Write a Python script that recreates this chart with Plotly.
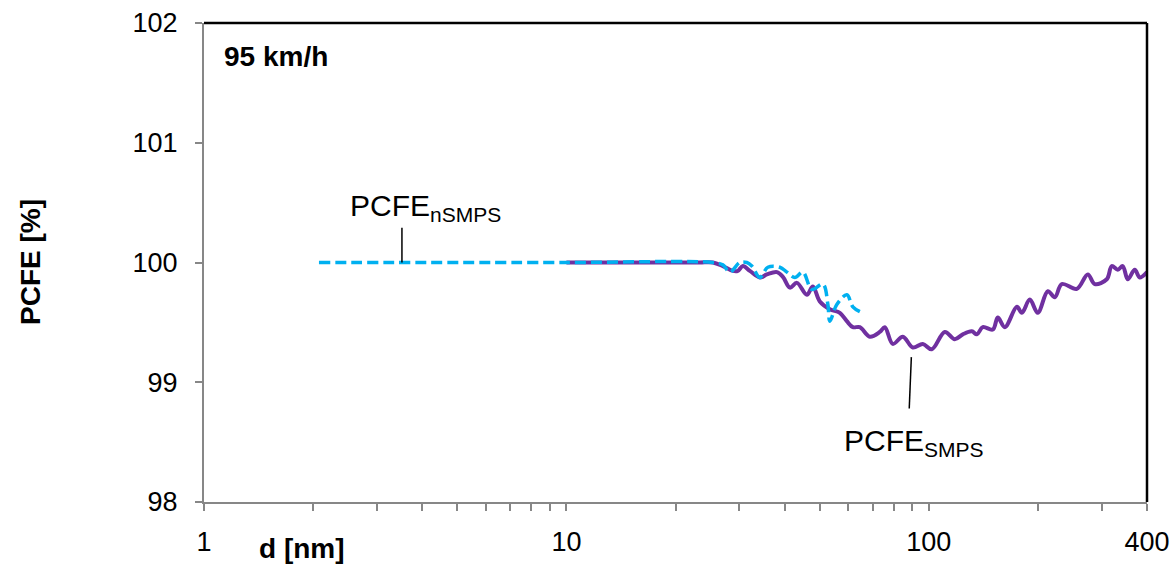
import plotly.graph_objects as go

# PCFE_SMPS (solid purple)
smps_d = [10, 20.56, 23.35, 25.36, 27.02, 28.8, 29.72, 30.68, 32.08, 34.19, 35.74, 38.09, 39.57,
          41.37, 43.25, 46.07, 47.86, 50.03, 53.33, 56.82, 59.4, 61.71, 64.52, 68.75, 73.26, 75.62,
          79.55, 84.78, 90.34, 96.25, 101.9, 110.7, 117.9, 124.1, 131.4, 135.7, 140.9, 150.2, 155.0,
          162.1, 175.0, 180.6, 190.0, 199.8, 213.0, 222.7, 232.8, 256.1, 274.6, 287.0, 309.8, 319.8,
          332.2, 342.9, 354.0, 370.1, 382.1, 400]
smps_v = [100, 100, 100, 100, 99.97, 99.93, 99.93, 99.97, 99.93, 99.875, 99.9, 99.92, 99.88,
          99.79, 99.83, 99.73, 99.8, 99.675, 99.61, 99.58, 99.51, 99.46, 99.46, 99.38, 99.42, 99.46,
          99.32, 99.38, 99.29, 99.32, 99.275, 99.42, 99.36, 99.4, 99.425, 99.4, 99.46, 99.44, 99.54,
          99.46, 99.63, 99.58, 99.69, 99.58, 99.76, 99.71, 99.82, 99.78, 99.9, 99.82, 99.86, 99.97,
          99.94, 99.97, 99.86, 99.94, 99.875, 99.92]

# PCFE_nSMPS (dashed cyan)
nsmps_d = [2.076, 10, 25.36, 27.02, 28.25, 30.1, 31.47, 32.49, 34.19, 35.96, 38.82, 40.59, 42.69,
           44.92, 47.57, 51.02, 52.66, 53.33, 55.74, 59.4, 61.71, 64.52]
nsmps_v = [100, 100, 100, 99.98, 99.92, 100, 100, 99.97, 99.875, 99.96, 99.96, 99.92, 99.875,
           99.92, 99.775, 99.82, 99.65, 99.51, 99.65, 99.73, 99.63, 99.59]

x_tickvals = [1, 2, 3, 4, 5, 6, 7, 8, 9, 10, 20, 30, 40, 50, 60, 70, 80, 90, 100, 200, 300, 400]
x_ticktext = ["1", "", "", "", "", "", "", "", "", "10", "", "", "", "", "", "", "", "", "100", "", "", "400"]
y_tickvals = [98, 99, 100, 101, 102]

FONT = "Liberation Sans, Arial, sans-serif"
GRAY = "#878787"

fig = go.Figure()
fig.add_trace(go.Scatter(x=smps_d, y=smps_v, mode="lines", line=dict(color="#7030A0", width=4, shape="spline", smoothing=1.0),
                         showlegend=False, hoverinfo="skip"))
fig.add_trace(go.Scatter(x=nsmps_d, y=nsmps_v, mode="lines",
                         line=dict(color="#00B0F0", width=3.5, dash="11px,5px", shape="spline", smoothing=1.0),
                         showlegend=False, hoverinfo="skip"))
# leader lines
fig.add_trace(go.Scatter(x=[3.517, 3.517], y=[100.0, 100.29], mode="lines", line=dict(color="black", width=1.5),
                         showlegend=False, hoverinfo="skip"))
fig.add_trace(go.Scatter(x=[89.5, 88.3], y=[99.21, 98.78], mode="lines", line=dict(color="black", width=1.5),
                         showlegend=False, hoverinfo="skip"))

fig.update_layout(
    width=1176, height=564,
    margin=dict(l=204, r=29, t=23, b=62, pad=0),
    paper_bgcolor="white", plot_bgcolor="white",
    font=dict(family=FONT, color="black", size=27),
    xaxis=dict(type="log", range=[0, 2.60206], tickvals=x_tickvals, ticktext=x_ticktext,
               ticks="outside", ticklen=7, tickwidth=1.5, tickcolor=GRAY, automargin=False,
               showline=True, linecolor=GRAY, linewidth=2, showgrid=False, zeroline=False,
               tickfont=dict(size=27, family=FONT), ticklabelstandoff=8),
    yaxis=dict(range=[98, 102], tickvals=y_tickvals, ticks="outside", ticklen=7, tickwidth=1.5, tickcolor=GRAY,
               showline=True, linecolor=GRAY, linewidth=2, showgrid=False, zeroline=False, automargin=False,
               tickfont=dict(size=27, family=FONT), ticklabelstandoff=12),
    shapes=[
        dict(type="line", xref="paper", yref="paper", x0=0, x1=1, y0=1, y1=1, line=dict(color="black", width=2.5)),
        dict(type="line", xref="paper", yref="paper", x0=1, x1=1, y0=0, y1=1, line=dict(color="black", width=2.5)),
    ],
    annotations=[
        dict(text="<b>95 km/h</b>", xref="paper", yref="paper", x=(222 - 204) / 943, y=(502 - 57) / 479,
             xanchor="left", yanchor="middle", showarrow=False, font=dict(size=28, family=FONT)),
        dict(text="<b>PCFE [%]</b>", xref="paper", yref="paper", x=(30 - 204) / 943, y=(502 - 262) / 479,
             xanchor="center", yanchor="middle", textangle=-90, showarrow=False, font=dict(size=28, family=FONT)),
        dict(text="<b>d [nm]</b>", xref="paper", yref="paper", x=(302 - 204) / 943, y=(502 - 548) / 479,
             xanchor="center", yanchor="middle", showarrow=False, font=dict(size=28, family=FONT)),
        dict(text="PCFE<sub>nSMPS</sub>", xref="paper", yref="paper", x=(348 - 204) / 943, y=(502 - 207) / 479,
             xanchor="left", yanchor="middle", showarrow=False, font=dict(size=30, family=FONT)),
        dict(text="PCFE<sub>SMPS</sub>", xref="paper", yref="paper", x=(842 - 204) / 943, y=(502 - 442) / 479,
             xanchor="left", yanchor="middle", showarrow=False, font=dict(size=30, family=FONT)),
    ],
)

fig.write_html("out.html")
